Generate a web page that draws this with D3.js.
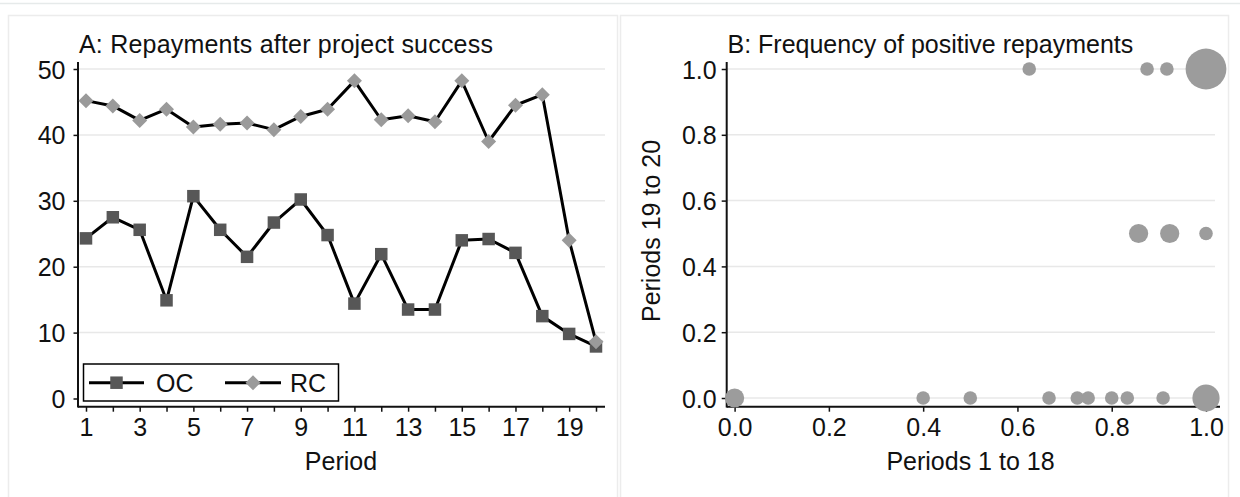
<!DOCTYPE html>
<html>
<head>
<meta charset="utf-8">
<script src="https://cdn.jsdelivr.net/npm/d3@7"></script>
<style>
  html, body { margin: 0; padding: 0; background: #fff; }
  svg { display: block; }
  text { font-family: "Liberation Sans", Arial, sans-serif; fill: #111; }
</style>
</head>
<body>
<svg id="chart" width="1240" height="497"></svg>
<script>
// ---- Data ----
const periods = [1,2,3,4,5,6,7,8,9,10,11,12,13,14,15,16,17,18,19,20];
const ocValues = [24.3,27.5,25.6,14.9,30.7,25.6,21.5,26.7,30.2,24.8,14.4,21.9,13.5,13.5,24.0,24.2,22.1,12.5,9.8,7.9];
const rcValues = [45.2,44.4,42.2,43.9,41.2,41.6,41.8,40.8,42.8,43.9,48.2,42.3,42.9,42.0,48.2,39.0,44.5,46.1,24.0,8.6];
const periodTickLabels = [1,3,5,7,9,11,13,15,17,19];
const repayTicks = [0,10,20,30,40,50];
const seriesNames = ["OC","RC"];

// Panel B: frequency of positive repayments (x: periods 1-18, y: periods 19-20, n: number of subjects)
const freqEarly = [0, 0.4, 0.5, 0.667, 0.727, 0.75, 0.8, 0.833, 0.909, 1.0, 0.857, 0.923, 1.0, 0.625, 0.875, 0.917, 1.0];
const freqLate  = [0, 0,   0,   0,     0,     0,    0,   0,     0,     0,   0.5,   0.5,   0.5, 1.0,   1.0,   1.0,   1.0];
const freqCount = [2, 1,   1,   1,     1,     1,    1,   1,     1,     4,   2,     2,     1,   1,     1,     1,     9];
const freqTicks = [0, 0.2, 0.4, 0.6, 0.8, 1.0];

const titleA = "A: Repayments after project success";
const titleB = "B: Frequency of positive repayments";

// ---- Layout ----
const svg = d3.select("#chart");
const FS = 25;
const gridColor = "#e8e8e8";
const panelColor = "#ececec";

// page decorations
svg.append("line").attr("x1",0).attr("x2",1240).attr("y1",3.5).attr("y2",3.5)
  .attr("stroke","#e6eaea").attr("stroke-width",1.5);
svg.append("rect").attr("x",8.5).attr("y",15.5).attr("width",609).attr("height",490)
  .attr("fill","#fff").attr("stroke",panelColor).attr("stroke-width",1.5);
svg.append("rect").attr("x",620.5).attr("y",15.5).attr("width",608).attr("height",490)
  .attr("fill","#fff").attr("stroke",panelColor).attr("stroke-width",1.5);

// ===== Panel A =====
const A = { left: 78, right: 605, top: 62, bottom: 406.7 };
const xA = d3.scaleLinear().domain([1,20]).range([86,596]);
const yA = d3.scaleLinear().domain([0,50]).range([398.5,69]);
const gA = svg.append("g");

// grid
gA.selectAll("line.grid").data(repayTicks.filter(d => d > 0)).join("line")
  .attr("class","grid")
  .attr("x1",A.left).attr("x2",A.right)
  .attr("y1",d => yA(d)).attr("y2",d => yA(d))
  .attr("stroke",gridColor).attr("stroke-width",1.5);

// y axis
const yAxisA = gA.append("g").attr("transform",`translate(${A.left},0)`)
  .call(d3.axisLeft(yA).tickValues(repayTicks).tickSize(4.5).tickPadding(8).tickFormat(d3.format("d")));
yAxisA.select(".domain").remove();
yAxisA.selectAll(".tick line").attr("stroke","#111").attr("stroke-width",1.5);
yAxisA.selectAll(".tick text").attr("font-size",FS).attr("dy","0.36em")
  .attr("font-family","Liberation Sans, Arial, sans-serif").attr("fill","#111");

// x axis
const xAxisA = gA.append("g").attr("transform",`translate(0,${A.bottom})`)
  .call(d3.axisBottom(xA).tickValues(periods).tickSize(5).tickPadding(7)
    .tickFormat(d => periodTickLabels.includes(d) ? d : ""));
xAxisA.select(".domain").remove();
xAxisA.selectAll(".tick line").attr("stroke","#111").attr("stroke-width",1.5);
xAxisA.selectAll(".tick text").attr("font-size",FS)
  .attr("font-family","Liberation Sans, Arial, sans-serif").attr("fill","#111");

// axis lines
gA.append("line").attr("x1",A.left).attr("x2",A.left).attr("y1",A.top).attr("y2",A.bottom+0.75)
  .attr("stroke","#111").attr("stroke-width",2);
gA.append("line").attr("x1",A.left).attr("x2",A.right).attr("y1",A.bottom).attr("y2",A.bottom)
  .attr("stroke","#111").attr("stroke-width",2);

// series
const lineGen = d3.line().x((d,i) => xA(periods[i])).y(d => yA(d));
const sqSize = 12.5, diaR = 7.5;
const square = d3.symbol().type(d3.symbolSquare).size(sqSize*sqSize);
function diamondPath(r){ return `M0,${-r}L${r},0L0,${r}L${-r},0Z`; }

gA.append("path").datum(ocValues).attr("d",lineGen)
  .attr("fill","none").attr("stroke","#000").attr("stroke-width",3).attr("stroke-linejoin","round");
gA.selectAll("path.oc").data(ocValues).join("path").attr("class","oc")
  .attr("d",square).attr("transform",(d,i) => `translate(${xA(periods[i])},${yA(d)})`)
  .attr("fill","#575757");

gA.append("path").datum(rcValues).attr("d",lineGen)
  .attr("fill","none").attr("stroke","#000").attr("stroke-width",3).attr("stroke-linejoin","round");
gA.selectAll("path.rc").data(rcValues).join("path").attr("class","rc")
  .attr("d",diamondPath(diaR)).attr("transform",(d,i) => `translate(${xA(periods[i])},${yA(d)})`)
  .attr("fill","#9a9a9a");

// legend
const leg = gA.append("g");
leg.append("rect").attr("x",83.5).attr("y",364).attr("width",255).attr("height",37)
  .attr("fill","#fff").attr("stroke","#000").attr("stroke-width",1.5);
const legItems = [
  { name: seriesNames[0], x1: 89, x2: 144, tx: 156, mk: "sq" },
  { name: seriesNames[1], x1: 225, x2: 281, tx: 290, mk: "dia" }
];
legItems.forEach(it => {
  const cy = 382.7, cx = (it.x1 + it.x2)/2;
  leg.append("line").attr("x1",it.x1).attr("x2",it.x2).attr("y1",cy).attr("y2",cy)
    .attr("stroke","#000").attr("stroke-width",3);
  if (it.mk === "sq") {
    leg.append("path").attr("d",square).attr("transform",`translate(${cx},${cy})`).attr("fill","#575757");
  } else {
    leg.append("path").attr("d",diamondPath(diaR)).attr("transform",`translate(${cx},${cy})`).attr("fill","#9a9a9a");
  }
  leg.append("text").attr("x",it.tx).attr("y",cy+9.3).attr("font-size",FS).text(it.name);
});

// titles
gA.append("text").attr("x",79).attr("y",52.5).attr("font-size",FS).attr("letter-spacing","0.2").text(titleA);
gA.append("text").attr("x",341).attr("y",470).attr("font-size",FS).attr("text-anchor","middle").text("Period");

// ===== Panel B =====
const B = { left: 726.7, right: 1220, top: 62, bottom: 406.7 };
const xB = d3.scaleLinear().domain([0,1]).range([734.6,1206]);
const yB = d3.scaleLinear().domain([0,1]).range([398,69]);
const rB = d3.scaleSqrt().domain([0,1]).range([0,6.8]);
const gB = svg.append("g");

gB.selectAll("line.grid").data(freqTicks).join("line")
  .attr("class","grid")
  .attr("x1",B.left).attr("x2",1215)
  .attr("y1",d => yB(d)).attr("y2",d => yB(d))
  .attr("stroke",gridColor).attr("stroke-width",1.5);

const fmt1 = d3.format(".1f");
const yAxisB = gB.append("g").attr("transform",`translate(${B.left},0)`)
  .call(d3.axisLeft(yB).tickValues(freqTicks).tickSize(5).tickPadding(5).tickFormat(fmt1));
yAxisB.select(".domain").remove();
yAxisB.selectAll(".tick line").attr("stroke","#111").attr("stroke-width",1.5);
yAxisB.selectAll(".tick text").attr("font-size",FS).attr("dy","0.36em")
  .attr("font-family","Liberation Sans, Arial, sans-serif").attr("fill","#111");

const xAxisB = gB.append("g").attr("transform",`translate(0,${B.bottom})`)
  .call(d3.axisBottom(xB).tickValues(freqTicks).tickSize(5).tickPadding(7).tickFormat(fmt1));
xAxisB.select(".domain").remove();
xAxisB.selectAll(".tick line").attr("stroke","#111").attr("stroke-width",1.5);
xAxisB.selectAll(".tick text").attr("font-size",FS)
  .attr("font-family","Liberation Sans, Arial, sans-serif").attr("fill","#111");

gB.append("line").attr("x1",B.left).attr("x2",B.left).attr("y1",B.top).attr("y2",B.bottom+0.75)
  .attr("stroke","#111").attr("stroke-width",2);
gB.append("line").attr("x1",B.left).attr("x2",B.right).attr("y1",B.bottom).attr("y2",B.bottom)
  .attr("stroke","#111").attr("stroke-width",2);

gB.selectAll("circle.pt").data(freqEarly).join("circle").attr("class","pt")
  .attr("cx",d => xB(d)).attr("cy",(d,i) => yB(freqLate[i]))
  .attr("r",(d,i) => rB(freqCount[i]))
  .attr("fill","#9c9c9c");

gB.append("text").attr("x",727.5).attr("y",52.5).attr("font-size",FS).text(titleB);
gB.append("text").attr("x",970.5).attr("y",470).attr("font-size",FS).attr("text-anchor","middle").text("Periods 1 to 18");
gB.append("text").attr("transform","translate(660,231) rotate(-90)")
  .attr("font-size",FS).attr("text-anchor","middle").text("Periods 19 to 20");
</script>
</body>
</html>
